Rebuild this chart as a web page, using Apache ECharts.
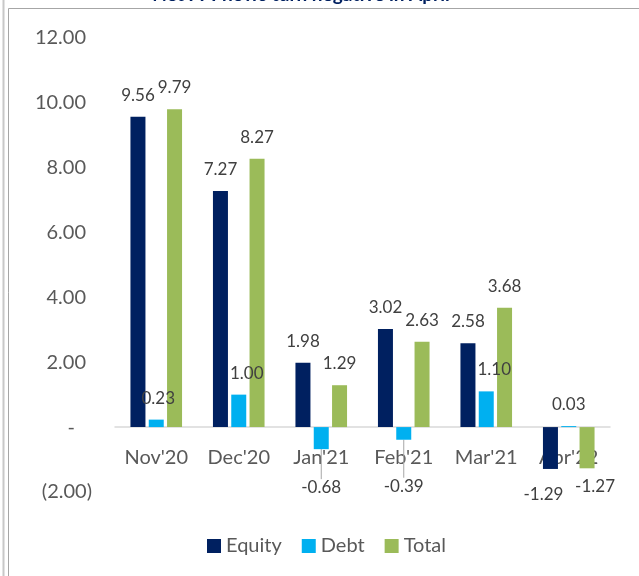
<!DOCTYPE html>
<html>
<head>
<meta charset="utf-8">
<script src="https://cdn.jsdelivr.net/npm/echarts@6/dist/echarts.min.js"></script>
<style>
  html, body { margin: 0; padding: 0; background: #fff; }
  #chart { width: 639px; height: 576px; }
</style>
</head>
<body>
<div id="chart"></div>
<script>
// net FPI flows, USD bn
const months = ["Nov'20", "Dec'20", "Jan'21", "Feb'21", "Mar'21", "Apr'22"]
const equity = [9.56, 7.27, 1.98, 3.02, 2.58, -1.29]
const debt = [0.23, 1.00, -0.68, -0.39, 1.10, 0.03]
const total = [9.79, 8.27, 1.29, 2.63, 3.68, -1.27]
const yMin = -2
const yMax = 12
const yStep = 2

// hand-moved labels in the original (dx, dy)
const labelShift = {
  '0-5': [-7, 4],
  '1-0': [2, 0],
  '1-1': [8, 0],
  '1-2': [0, 17],
  '1-3': [0, 25],
  '1-4': [8, 0],
  '2-5': [8, -3]
}
const leaderLines = { '1-2': true, '1-3': true }

const font = 'Lato, "Open Sans", sans-serif'
const textColor = '#595959'

const gridTop = 37.6
const gridBottom = 84
const gridHeight = 576 - gridTop - gridBottom
const zeroOffset = -gridHeight * (0 - yMin) / (yMax - yMin)

function buildData(values, seriesIndex) {
  return values.map((v, i) => {
    const item = { value: v }
    if (leaderLines[seriesIndex + '-' + i]) {
      item.labelLine = { show: true, lineStyle: { color: '#a6a6a6', width: 1 } }
    }
    return item
  })
}

function barSeries(name, values, color, idx, z) {
  return {
    name: name,
    type: 'bar',
    z: z,
    barWidth: 15,
    barGap: '22%',
    itemStyle: { color: color },
    label: {
      show: true,
      position: 'outside',
      distance: 13,
      fontFamily: font,
      fontSize: 17,
      color: '#404040',
      formatter: p => p.value.toFixed(2)
    },
    labelLayout: p => {
      const s = labelShift[p.seriesIndex + '-' + p.dataIndex]
      return s ? { dx: s[0], dy: s[1] } : {}
    },
    data: buildData(values, idx)
  }
}

const chart = echarts.init(document.getElementById('chart'))
chart.setOption({
  animation: false,
  backgroundColor: '#fff',
  title: {
    text: 'Net FPI flows turn negative in April',
    left: 301,
    textAlign: 'center',
    top: -15,
    padding: 0,
    textStyle: { fontFamily: font, fontSize: 19, fontWeight: 'bold', color: '#002060' }
  },
  graphic: [
    { type: 'line', shape: { x1: 3.5, y1: 0, x2: 3.5, y2: 576 }, style: { stroke: '#c8c8c8', lineWidth: 2 } },
    { type: 'line', shape: { x1: 8.5, y1: 8.5, x2: 8.5, y2: 576 }, style: { stroke: '#a6a6a6', lineWidth: 1 } },
    { type: 'line', shape: { x1: 8.5, y1: 8.5, x2: 639, y2: 8.5 }, style: { stroke: '#a6a6a6', lineWidth: 1 } }
  ],
  legend: {
    data: ['Equity', 'Debt', 'Total'],
    left: 202,
    top: 531,
    icon: 'rect',
    itemWidth: 14,
    itemHeight: 14,
    itemGap: 20,
    textStyle: { fontFamily: font, fontSize: 20, color: textColor }
  },
  grid: { left: 115, right: 29, top: gridTop, bottom: gridBottom, containLabel: false },
  xAxis: {
    type: 'category',
    data: months,
    offset: zeroOffset,
    axisLine: { onZero: false, lineStyle: { color: '#d9d9d9', width: 1.5 } },
    axisTick: { show: false },
    axisLabel: { interval: 0, margin: 20, fontFamily: font, fontSize: 20, color: textColor }
  },
  yAxis: {
    type: 'value',
    min: yMin,
    max: yMax,
    interval: yStep,
    splitLine: { show: false },
    axisLine: { show: false },
    axisTick: { show: false },
    axisLabel: {
      margin: 23,
      fontFamily: font,
      fontSize: 20,
      color: textColor,
      formatter: v => {
        if (v === 0) return '{z|-}'
        if (v < 0) return '{n|(' + Math.abs(v).toFixed(2) + ')}'
        return '{p|' + v.toFixed(2) + '}'
      },
      rich: {
        p: { fontFamily: font, fontSize: 20, color: textColor, padding: [0, 6, 0, 0] },
        n: { fontFamily: font, fontSize: 20, color: textColor },
        z: { fontFamily: font, fontSize: 20, color: textColor, padding: [0, 17, 0, 0] }
      }
    }
  },
  series: [
    barSeries('Equity', equity, '#002060', 0, 2),
    barSeries('Debt', debt, '#00b0f0', 1, 4),
    barSeries('Total', total, '#9bbb59', 2, 3)
  ]
})
</script>
</body>
</html>
